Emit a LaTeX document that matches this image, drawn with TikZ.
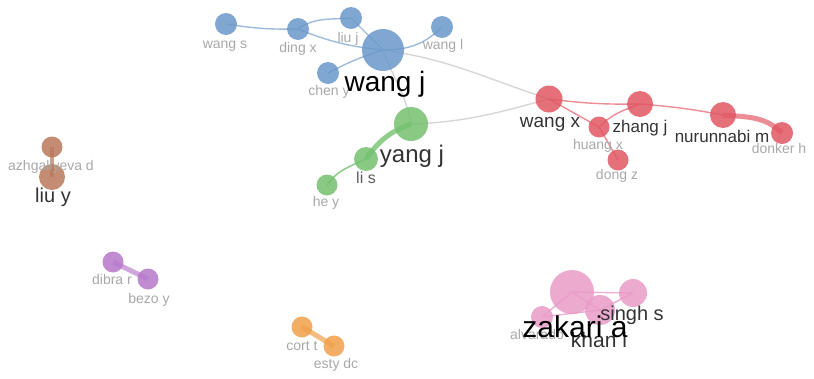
\documentclass[tikz,border=0pt]{standalone}
\usepackage{fontspec}
\setmainfont{Liberation Sans}
\begin{document}
\begin{tikzpicture}[x=1pt,y=1pt,
  vn/.style={circle,inner sep=0pt,fill opacity=0.85,draw=none},
  bl/.style={vn,fill=blueN},
  rd/.style={vn,fill=redN},
  gr/.style={vn,fill=greenN},
  br/.style={vn,fill=brownN},
  pu/.style={vn,fill=purpleN},
  or/.style={vn,fill=orangeN},
  pk/.style={vn,fill=pinkN},
  lblbig/.style={anchor=base,inner sep=0pt,text=black,font=\fontsize{28}{28}\selectfont},
  lblmid/.style={anchor=base,inner sep=0pt,text=darkT,font=\fontsize{19}{19}\selectfont},
  lblsm/.style={anchor=base,inner sep=0pt,text=lightT,font=\fontsize{14}{14}\selectfont},
  ebl/.style={draw=blueE,line width=1.4pt},
  egy/.style={draw=grayE,line width=1.4pt},
  erd/.style={draw=redE,line width=1.4pt},
  egr/.style={draw=greenE,line width=1.6pt},
  epk/.style={draw=pinkE,line width=1.4pt}
]
\definecolor{blueN}{HTML}{6A98C9}
\definecolor{redN}{HTML}{E05763}
\definecolor{greenN}{HTML}{74C06F}
\definecolor{brownN}{HTML}{B8785B}
\definecolor{purpleN}{HTML}{B677CA}
\definecolor{orangeN}{HTML}{F0A04A}
\definecolor{pinkN}{HTML}{E99BC7}
\definecolor{blueE}{HTML}{9DBBDC}
\definecolor{grayE}{HTML}{D6D6D6}
\definecolor{redE}{HTML}{EC8C94}
\definecolor{greenE}{HTML}{90CF8B}
\definecolor{pinkE}{HTML}{EDB0D3}
\definecolor{darkT}{HTML}{333333}
\definecolor{lightT}{HTML}{A8A8A8}
\useasboundingbox (0,0) rectangle (814,-378);

% coordinates of nodes
\coordinate (cwangs) at (226,-24);
% blue nodes
\node[bl,minimum size=22pt] (wangs) at (226,-24) {};
\node[bl,minimum size=22pt] (dingx) at (298,-29) {};
\node[bl,minimum size=22pt] (liuj) at (351,-18) {};
\node[bl,minimum size=22pt] (wangl) at (442,-27) {};
\node[bl,minimum size=22pt] (cheny) at (328,-73) {};
\node[bl,minimum size=42pt] (wangj) at (383,-50) {};
% red nodes
\node[rd,minimum size=27pt] (wangx) at (549,-99) {};
\node[rd,minimum size=21pt] (huangx) at (599,-127) {};
\node[rd,minimum size=26pt] (zhangj) at (640,-104) {};
\node[rd,minimum size=26pt] (nurun) at (723,-115) {};
\node[rd,minimum size=22pt] (donker) at (782,-133) {};
\node[rd,minimum size=21pt] (dongz) at (618,-160) {};
% green
\node[gr,minimum size=34pt] (yangj) at (411,-124) {};
\node[gr,minimum size=24pt] (lis) at (366,-159) {};
\node[gr,minimum size=21pt] (hey) at (327,-185) {};
% brown
\node[br,minimum size=21pt] (azh) at (52,-147) {};
\node[br,minimum size=26pt] (liuy) at (52,-177) {};
% purple
\node[pu,minimum size=21pt] (dibra) at (113,-262) {};
\node[pu,minimum size=21pt] (bezo) at (148,-279) {};
% orange
\node[or,minimum size=21pt] (cort) at (302,-327) {};
\node[or,minimum size=21pt] (esty) at (334,-346) {};
% pink
\node[pk,minimum size=22pt] (alva) at (542,-317) {};
\node[pk,minimum size=44pt] (zakari) at (572,-292) {};
\node[pk,minimum size=30pt] (khan) at (600,-310) {};
\node[pk,minimum size=28pt] (singh) at (633,-293) {};

% edges (behind nodes)
\begin{scope}[on background layer/.style={}]
\end{scope}
\pgfdeclarelayer{edges}
\pgfsetlayers{edges,main}
\begin{pgfonlayer}{edges}
\draw[egy] (wangj.center) to[out=-8,in=162] (wangx.center);
\draw[egy] (yangj.center) to[out=2,in=195] (wangx.center);
\draw[egy] (wangj.center) to[out=-70,in=100] (yangj.center);
\draw[ebl] (wangs.center) to[bend right=5] (dingx.center);
\draw[ebl] (dingx.center) to[bend right=8] (wangj.center);
\draw[ebl] (dingx.center) to[out=35,in=185] (liuj.center);
\draw[ebl] (liuj.center) -- (wangj.center);
\draw[ebl] (wangj.center) to[out=0,in=225] (wangl.center);
\draw[ebl] (cheny.center) to[bend left=5] (wangj.center);
\draw[erd] (wangx.center) to[bend right=4] (zhangj.center);
\draw[erd] (zhangj.center) to[bend left=3] (nurun.center);
\draw[draw=redE,line width=5pt] (nurun.center) to[out=-5,in=135] (donker.center);
\draw[erd] (wangx.center) -- (huangx.center);
\draw[erd] (huangx.center) to[out=45,in=200] (zhangj.center);
\draw[erd] (huangx.center) -- (dongz.center);
\draw[draw=greenE,line width=5pt] (yangj.center) to[out=200,in=55] (lis.center);
\draw[egr] (lis.center) to[out=205,in=55] (hey.center);
\draw[draw=brownN!70,line width=3.5pt] (azh.center) -- (liuy.center);
\draw[draw=purpleN!65,line width=5pt] (dibra.center) -- (bezo.center);
\draw[draw=orangeN!70,line width=5pt] (cort.center) -- (esty.center);
\draw[epk] (zakari.center) -- (singh.center);
\draw[epk] (khan.center) -- (singh.center);
\draw[epk] (zakari.center) -- (khan.center);
\draw[epk] (alva.center) -- (zakari.center);
\draw[epk] (alva.center) -- (khan.center);
\end{pgfonlayer}

% labels
\node[lblsm] (twangs) at (225,-48) {wang s};
\node[lblsm] (tdingx) at (298,-52) {ding x};
\node[lblsm] (tliuj) at (348,-42) {liu j};
\node[lblsm] (twangl) at (443,-49) {wang l};
\node[lblsm] (tcheny) at (329,-95) {chen y};
\node[lblbig] (twangj) at (385,-91) {wang j};
\node[lblmid] (twangx) at (550,-127) {wang x};
\node[lblsm] (thuangx) at (598,-149) {huang x};
\node[lblmid,font=\fontsize{17}{17}\selectfont] (tzhangj) at (640,-132) {zhang j};
\node[lblmid,font=\fontsize{17}{17}\selectfont] (tnurun) at (722,-142) {nurunnabi m};
\node[lblsm] (tdonker) at (779,-153) {donker h};
\node[lblsm] (tdongz) at (617,-179) {dong z};
\node[lblmid,font=\fontsize{24}{24}\selectfont] (tyangj) at (412,-162) {yang j};
\node[lblmid,text=darkT!80,font=\fontsize{16}{16}\selectfont] (tlis) at (366,-183) {li s};
\node[lblsm] (they) at (326,-206) {he y};
\node[lblsm] (tazh) at (51,-170) {azhgaliyeva d};
\node[lblmid,font=\fontsize{20}{20}\selectfont] (tliuy) at (53,-202) {liu y};
\node[lblsm] (tdibra) at (112,-284) {dibra r};
\node[lblsm] (tbezo) at (149,-303) {bezo y};
\node[lblsm] (tcort) at (302,-350) {cort t};
\node[lblsm] (testy) at (336,-368) {esty dc};
\node[lblsm] (talva) at (537,-339) {alvarado};
\node[lblmid,font=\fontsize{20}{20}\selectfont] (tsingh) at (632,-320) {singh s};
\node[lblmid,font=\fontsize{21}{21}\selectfont] (tkhan) at (599,-347) {khan i};
\node[lblbig,font=\fontsize{30}{30}\selectfont] (tzakari) at (575,-337) {zakari a};
\end{tikzpicture}
\end{document}
